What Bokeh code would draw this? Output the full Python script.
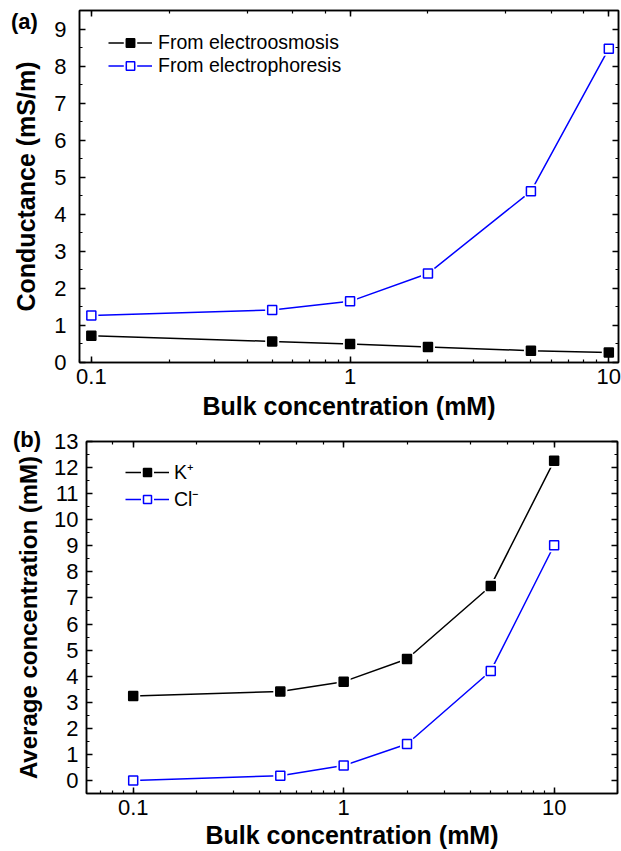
from bokeh.plotting import figure
from bokeh.models import (LogAxis, LinearAxis, SingleIntervalTicker, Legend, LegendItem,
                          CustomJSTickFormatter, Div)
from bokeh.embed import file_html
from bokeh.resources import INLINE

# ---------------- data ----------------
bulk = [0.1, 0.5, 1, 2, 5, 10]
electroosmosis = [0.72, 0.57, 0.50, 0.42, 0.32, 0.27]
electrophoresis = [1.27, 1.42, 1.65, 2.40, 4.62, 8.47]
k_plus = [3.24, 3.41, 3.79, 4.66, 7.46, 12.26]
cl_minus = [0.0, 0.18, 0.57, 1.40, 4.20, 9.02]
x_tick_labels = {0.1: "0.1", 1: "1", 10: "10"}

FONT = "Liberation Sans"
BLUE = "#0000ff"


def style_axis(ax, labels=True):
    ax.axis_line_color = "black"
    ax.axis_line_width = 1.5
    ax.major_tick_line_color = "black"
    ax.major_tick_line_width = 1.5
    ax.minor_tick_line_color = "black"
    ax.minor_tick_line_width = 1.2
    ax.major_tick_in = 6
    ax.major_tick_out = 0
    ax.minor_tick_in = 3
    ax.minor_tick_out = 0
    ax.major_label_text_font = FONT
    ax.major_label_text_font_size = "22px"
    ax.major_label_text_color = "black"
    ax.axis_label_text_font = FONT
    ax.axis_label_text_font_size = "25px"
    ax.axis_label_text_font_style = "bold"
    ax.axis_label_text_color = "black"
    if not labels:
        ax.formatter = CustomJSTickFormatter(code="return ''")
        ax.major_label_standoff = 0


def make_panel(x_range, y_range, border_left, border_right, border_top, border_bottom, frame_h):
    p = figure(x_axis_type="log", x_range=x_range, y_range=y_range,
               frame_height=frame_h,
               width=621, min_border_left=border_left, min_border_right=border_right,
               min_border_top=border_top, min_border_bottom=border_bottom,
               output_backend="svg", toolbar_location=None)
    p.xgrid.visible = False
    p.ygrid.visible = False
    p.outline_line_color = "black"
    p.outline_line_width = 1.5
    p.background_fill_color = "white"
    p.border_fill_color = "white"
    xa, ya = p.below[0], p.left[0]
    ya.ticker = SingleIntervalTicker(interval=1, num_minor_ticks=2)
    xa.formatter = CustomJSTickFormatter(
        args=dict(lab={str(k): v for k, v in x_tick_labels.items()}),
        code="const s = String(Number(tick.toPrecision(6))); return (s in lab) ? lab[s] : s;")
    style_axis(xa)
    style_axis(ya)
    top = LogAxis()
    right = LinearAxis(ticker=SingleIntervalTicker(interval=1, num_minor_ticks=2))
    style_axis(top, labels=False)
    style_axis(right, labels=False)
    p.add_layout(top, "above")
    p.add_layout(right, "right")
    return p, xa, ya


def add_series(p, ys, filled, color):
    ln = p.line(bulk, ys, line_color=color, line_width=1.5)
    halo = p.scatter(bulk, ys, marker="square", size=9, fill_color="white",
                     line_color="white", line_width=5)
    mk = p.scatter(bulk, ys, marker="square", size=9,
                   fill_color=color if filled else "white",
                   line_color=color, line_width=1.5)
    return [ln, halo, mk]


def make_legend(items, loc, gh, spacing, standoff):
    return Legend(items=items, location=loc, glyph_width=44, glyph_height=gh,
                  label_height=gh, spacing=spacing, padding=0, margin=0,
                  label_standoff=standoff, label_text_font=FONT,
                  label_text_font_size="19.5px", label_text_color="black",
                  border_line_color=None, background_fill_alpha=0)


def panel_tag(text, left, top):
    return Div(text=text, styles={"position": "absolute", "left": f"{left}px",
                                  "top": f"{top}px", "font-family": FONT,
                                  "font-size": "22px", "font-weight": "bold",
                                  "line-height": "1", "margin": "0", "padding": "0",
                                  "color": "black", "z-index": "10"})


# ---------------- panel (a) ----------------
p1, xa1, ya1 = make_panel((0.09, 10.9), (0, 9.5), 79, 3, 10, 60, 352)
xa1.axis_label = "Bulk concentration (mM)"
ya1.axis_label = "Conductance (mS/m)"
xa1.major_label_standoff = 6
xa1.axis_label_standoff = 5
ya1.major_label_standoff = 13
ya1.axis_label_standoff = 11
r_eo = add_series(p1, electroosmosis, True, "black")
r_ep = add_series(p1, electrophoresis, False, BLUE)
p1.add_layout(make_legend([LegendItem(label="From electroosmosis", renderers=r_eo),
                           LegendItem(label="From electrophoresis", renderers=r_ep)],
                          (29, 285), 21, 0, 6))

# ---------------- panel (b) ----------------
p2, xa2, ya2 = make_panel((0.06, 20), (-0.5, 13), 86, 4, 19, 50, 352)
xa2.axis_label = "Bulk concentration (mM)"
ya2.axis_label = "Average concentration (mM)"
ya2.axis_label_text_font_size = "24px"
xa2.major_label_standoff = 6
xa2.axis_label_standoff = 3
ya2.major_label_standoff = 8
ya2.axis_label_standoff = 9
r_k = add_series(p2, k_plus, True, "black")
r_cl = add_series(p2, cl_minus, False, BLUE)
p2.add_layout(make_legend([LegendItem(label="K\u207a", renderers=r_k),
                           LegendItem(label="Cl\u207b", renderers=r_cl)],
                          (39, 281), 20, 0, 5))

tag_a = panel_tag("(a)", 11, 11)
tag_b = panel_tag("(b)", 13, 429)

open("out.html", "w").write(file_html([p1, p2, tag_a, tag_b], INLINE))
